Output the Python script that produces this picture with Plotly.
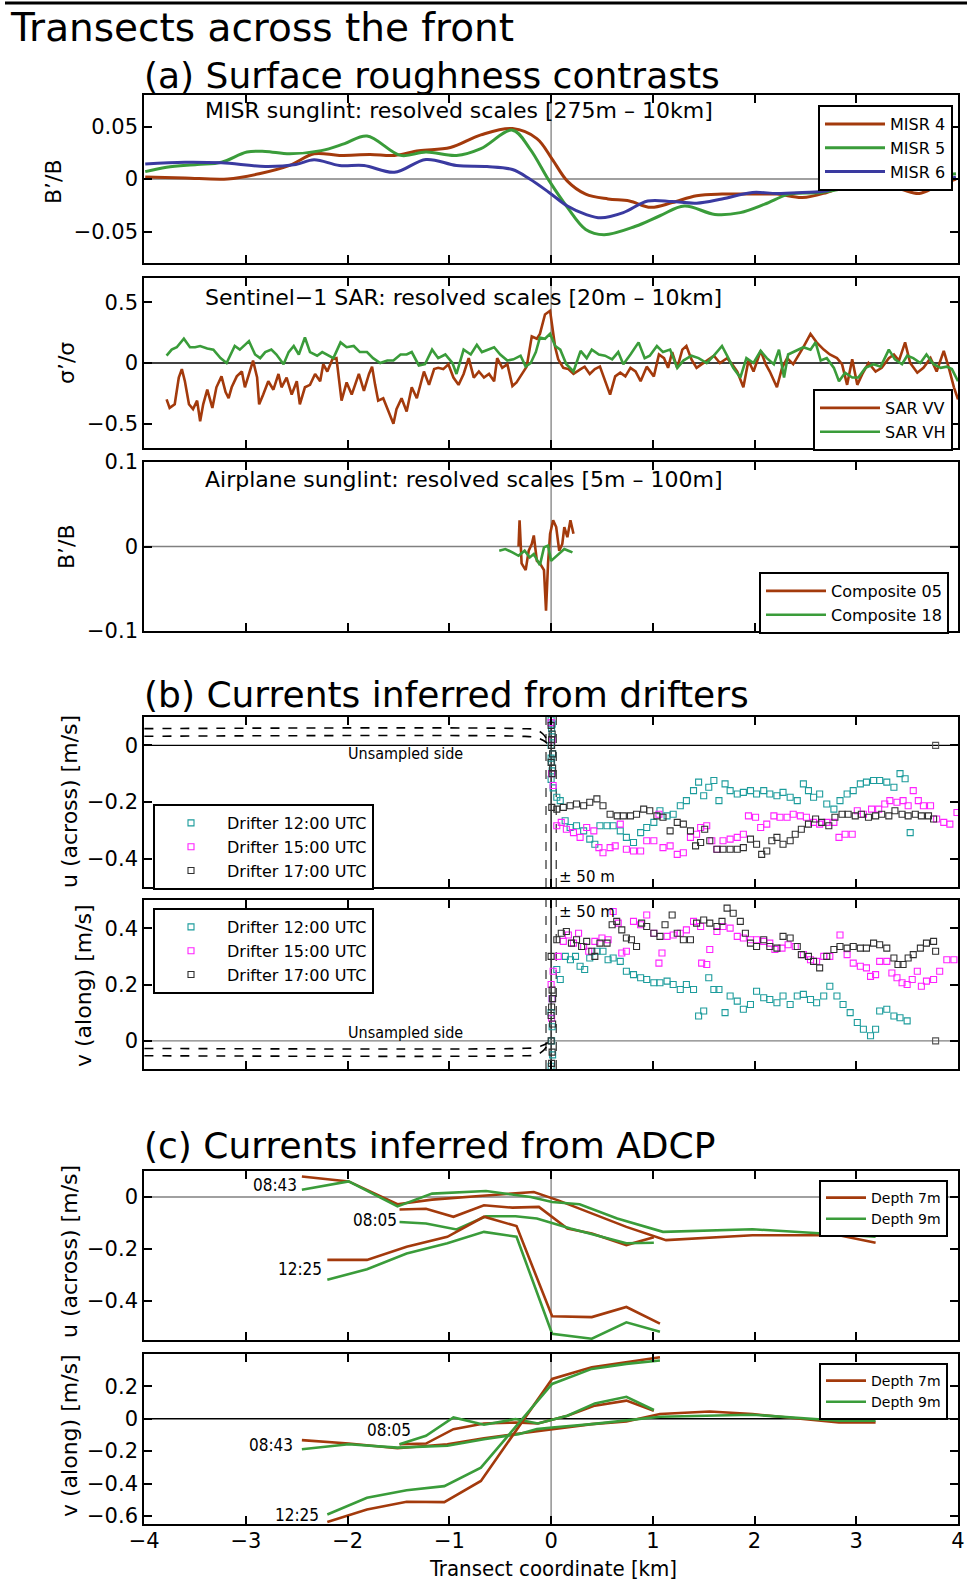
import plotly.graph_objects as go

# ---------------- DATA ----------------
KM_TICKS = [-4, -3, -2, -1, 0, 1, 2, 3, 4]
KM_TICKTEXT = ["\u22124", "\u22123", "\u22122", "\u22121", "0", "1", "2", "3", "4"]

# (a) MISR sunglint
MISR4_KM = [-3.99,-3.60,-3.18,-2.87,-2.57,-2.33,-2.08,-1.78,-1.54,-1.30,-0.99,-0.69,-0.38,-0.14,0.01,0.16,0.34,0.56,0.77,0.98,1.19,1.43,1.68,1.98,2.22,2.47,2.71,2.95,3.19,3.43,3.62,3.80,3.98]
MISR4 = [0.002,0.001,0.0,0.005,0.013,0.024,0.0225,0.0234,0.0225,0.027,0.030,0.042,0.048,0.0385,0.019,-0.002,-0.0144,-0.019,-0.021,-0.027,-0.0225,-0.016,-0.0144,-0.0144,-0.0144,-0.0177,-0.0128,-0.0048,-0.0064,-0.0096,-0.0138,-0.0064,0.0]
MISR5_KM = [-3.99,-3.78,-3.48,-3.24,-2.99,-2.81,-2.57,-2.26,-2.03,-1.81,-1.48,-1.23,-0.93,-0.69,-0.38,-0.21,-0.02,0.16,0.34,0.52,0.83,1.07,1.31,1.61,1.86,2.10,2.34,2.65,2.95,3.19,3.43,3.68,3.98]
MISR5 = [0.007,0.0112,0.0138,0.016,0.0257,0.0263,0.024,0.027,0.0337,0.041,0.0225,0.0257,0.0225,0.029,0.0465,0.029,-0.0016,-0.027,-0.048,-0.053,-0.045,-0.035,-0.0257,-0.0337,-0.032,-0.024,-0.0144,-0.0128,-0.008,-0.0064,-0.0016,0.0016,0.005]
MISR6_KM = [-3.99,-3.60,-3.24,-2.81,-2.51,-2.33,-2.08,-1.84,-1.54,-1.23,-0.93,-0.63,-0.38,-0.21,-0.02,0.16,0.34,0.49,0.71,0.95,1.19,1.43,1.68,1.98,2.22,2.47,2.71,3.01,3.25,3.56,3.80,3.98]
MISR6 = [0.0144,0.016,0.0154,0.012,0.0138,0.0183,0.0128,0.0128,0.0064,0.0186,0.0128,0.0119,0.009,0.0,-0.0128,-0.0257,-0.0337,-0.037,-0.032,-0.021,-0.0215,-0.023,-0.019,-0.0128,-0.0138,-0.0128,-0.0112,-0.0016,-0.0042,-0.0048,-0.0016,0.0016]

# (a) Sentinel-1 SAR
SAR_VV_KM = [-3.78,-3.75,-3.70,-3.66,-3.63,-3.60,-3.56,-3.52,-3.48,-3.45,-3.42,-3.38,-3.33,-3.29,-3.24,-3.20,-3.17,-3.14,-3.09,-3.04,
             -3.01,-2.96,-2.93,-2.89,-2.87,-2.83,-2.78,-2.73,-2.68,-2.65,-2.60,-2.55,-2.50,-2.47,-2.42,-2.37,-2.32,-2.27,-2.24,-2.20,
             -2.15,-2.11,-2.06,-2.01,-1.96,-1.89,-1.84,-1.79,-1.76,-1.73,-1.70,-1.65,-1.60,-1.55,-1.52,-1.47,-1.42,-1.37,-1.32,-1.25,
             -1.20,-1.15,-1.11,-1.06,-1.01,-0.96,-0.91,-0.86,-0.81,-0.76,-0.71,-0.66,-0.61,-0.56,-0.53,-0.48,-0.43,-0.38,-0.34,-0.29,
             -0.24,-0.19,-0.14,-0.11,-0.06,
             -0.01,0.04,0.07,0.12,0.17,0.22,0.29,0.33,0.38,0.43,0.48,0.53,0.58,0.63,0.68,0.73,0.78,0.83,0.88,0.94,
             1.01,1.06,1.11,1.15,1.19,1.24,1.29,1.33,1.38,1.43,1.48,1.53,1.60,1.66,1.73,1.78,1.83,1.89,1.94,1.99,
             2.06,2.11,2.15,2.22,2.27,2.32,2.38,2.48,2.55,2.61,2.68,2.74,2.81,2.86,2.91,2.96,3.01,3.06,3.12,3.19,
             3.25,3.32,3.37,3.42,3.48,3.53,3.60,3.66,3.73,3.79,3.86,3.91,3.96,4.0]
SAR_VV = [-0.30,-0.37,-0.34,-0.12,-0.05,-0.15,-0.34,-0.38,-0.31,-0.48,-0.34,-0.22,-0.37,-0.20,-0.11,-0.24,-0.29,-0.20,-0.11,-0.07,
          -0.20,-0.05,0.02,-0.12,-0.34,-0.26,-0.15,-0.22,-0.09,-0.20,-0.12,-0.26,-0.15,-0.34,-0.20,-0.18,-0.09,-0.15,-0.01,-0.07,
          0.03,0.04,-0.31,-0.16,-0.26,-0.09,-0.23,-0.09,-0.03,-0.18,-0.31,-0.29,-0.40,-0.50,-0.38,-0.29,-0.40,-0.20,-0.29,-0.07,
          -0.18,-0.05,-0.04,-0.05,-0.01,-0.12,-0.18,-0.09,0.04,-0.12,-0.07,-0.12,-0.09,-0.15,0.04,-0.04,-0.01,-0.19,-0.16,-0.09,
          -0.03,0.22,0.20,0.24,0.40,
          0.43,0.13,0.03,-0.04,-0.05,-0.09,-0.05,-0.03,-0.09,-0.05,-0.03,-0.15,-0.26,-0.11,-0.08,-0.11,-0.04,-0.07,-0.15,-0.03,
          -0.11,0.07,0.04,-0.04,0.09,-0.04,0.11,0.14,0.03,-0.04,-0.01,0.02,0.06,0.00,0.04,-0.01,-0.07,-0.20,0.02,-0.07,
          0.10,-0.01,-0.07,-0.20,-0.04,0.04,-0.01,0.13,0.24,0.17,0.11,0.07,0.04,-0.01,-0.18,0.03,-0.18,-0.09,0.00,-0.07,
          -0.04,0.04,0.07,0.02,0.17,0.00,-0.08,-0.04,0.04,-0.07,0.10,-0.04,-0.20,-0.30]
SAR_VH_KM = [-3.78,-3.73,-3.68,-3.61,-3.55,-3.50,-3.45,-3.38,-3.32,-3.25,-3.19,-3.15,-3.11,-3.06,-2.97,-2.91,-2.86,-2.81,-2.75,-2.70,
             -2.63,-2.58,-2.53,-2.48,-2.42,-2.37,-2.30,-2.25,-2.20,-2.14,-2.07,-2.01,-1.94,-1.88,-1.81,-1.75,-1.68,-1.61,-1.55,-1.48,
             -1.42,-1.37,-1.30,-1.24,-1.17,-1.11,-1.04,-0.97,-0.93,-0.86,-0.79,-0.73,-0.68,-0.61,-0.56,-0.50,-0.43,-0.37,-0.30,-0.25,
             -0.20,-0.15,-0.11,-0.06,-0.01,
             0.04,0.09,0.15,0.22,0.29,0.35,0.40,0.47,0.53,0.60,0.66,0.71,0.78,0.86,0.92,0.97,1.04,1.10,1.17,1.24,
             1.30,1.38,1.45,1.53,1.60,1.68,1.73,1.79,1.86,1.92,1.99,2.06,2.12,2.19,2.24,2.29,2.33,2.40,2.48,2.55,
             2.60,2.65,2.71,2.78,2.83,2.89,2.96,3.02,3.09,3.17,3.24,3.32,3.38,3.45,3.50,3.56,3.63,3.69,3.76,3.83,
             3.89,3.94,4.0]
SAR_VH = [0.06,0.11,0.13,0.20,0.13,0.13,0.14,0.12,0.11,0.04,0.00,0.07,0.14,0.11,0.18,0.07,0.04,0.09,0.11,0.07,
          -0.01,0.09,0.14,0.07,0.21,0.09,0.06,0.09,0.07,0.04,0.17,0.13,0.14,0.09,0.09,0.04,0.00,0.02,0.02,0.07,
          0.07,0.09,-0.02,-0.01,0.11,0.04,0.07,0.00,-0.09,0.11,0.07,0.15,0.09,0.11,0.13,0.07,0.02,0.03,0.06,-0.03,
          0.00,0.09,0.21,0.20,0.24,
          0.14,0.11,-0.01,-0.07,0.10,0.04,0.11,0.07,0.06,0.03,0.09,-0.01,0.07,0.17,0.04,0.06,0.14,0.09,0.11,-0.04,
          0.02,0.06,0.04,0.00,0.06,0.14,0.06,-0.04,-0.12,0.04,0.00,0.10,0.04,-0.01,0.11,-0.12,0.07,0.10,0.13,0.11,
          0.17,0.02,0.04,-0.04,-0.15,-0.08,-0.12,-0.12,-0.04,-0.01,-0.03,0.11,0.03,-0.01,0.06,0.04,0.00,0.07,-0.01,-0.04,
          -0.03,-0.05,-0.15]

# (a) Airplane sunglint
COMP05_KM = [-0.32,-0.31,-0.29,-0.25,-0.22,-0.19,-0.17,-0.14,-0.11,-0.07,-0.05,-0.03,-0.01,0.02,0.05,0.08,0.11,0.13,0.16,0.19,0.22]
COMP05 = [0.0,0.031,-0.02,-0.028,-0.005,0.003,0.013,-0.017,-0.02,-0.028,-0.076,-0.02,0.015,0.031,0.023,-0.005,0.003,0.023,0.011,0.031,0.015]
COMP18_KM = [-0.51,-0.45,-0.38,-0.32,-0.26,-0.21,-0.17,-0.11,-0.07,-0.03,0.0,0.04,0.09,0.13,0.17,0.21]
COMP18 = [-0.005,-0.003,-0.007,-0.011,-0.005,-0.013,-0.009,-0.022,-0.001,0.001,-0.017,-0.013,-0.007,-0.003,-0.005,-0.007]

# (b) Drifters: across-front u
D12_U_KM = [0.0,0.005,0.01,0.0,0.015,0.005,0.01,0.0,0.02,0.01,0.0,
            0.056,0.09,0.138,0.187,0.25,0.32,0.38,0.43,0.48,0.55,0.61,0.68,0.74,0.81,0.88,0.94,1.01,1.07,1.14,1.20,
            1.27,1.33,1.40,1.45,1.50,1.55,1.60,1.65,1.71,1.76,1.83,1.89,1.96,2.02,2.09,2.15,2.22,2.28,2.35,2.42,
            2.48,2.53,2.58,2.64,2.71,2.78,2.84,2.91,2.97,3.04,3.10,3.17,3.23,3.30,3.37,3.43,3.48,3.53]
D12_U = [0.09,0.06,0.03,0.0,-0.03,-0.06,-0.09,-0.12,-0.15,0.075,-0.045,
         -0.183,-0.195,-0.266,-0.29,-0.284,-0.302,-0.331,-0.349,-0.284,-0.284,-0.284,-0.302,-0.325,-0.343,-0.308,-0.29,-0.272,-0.231,-0.249,-0.243,
         -0.213,-0.195,-0.16,-0.13,-0.178,-0.148,-0.124,-0.195,-0.136,-0.16,-0.172,-0.166,-0.16,-0.172,-0.16,-0.172,-0.178,-0.166,-0.183,-0.195,
         -0.136,-0.16,-0.183,-0.172,-0.207,-0.225,-0.195,-0.172,-0.16,-0.136,-0.13,-0.124,-0.124,-0.13,-0.148,-0.10,-0.118,-0.308]
D15_U_KM = [0.0,0.01,0.005,
            0.02,0.056,0.10,0.15,0.22,0.285,0.35,0.42,0.47,0.51,0.58,0.63,0.68,0.74,0.81,0.88,0.94,1.01,1.06,1.10,
            1.17,1.24,1.30,1.37,1.43,1.47,1.53,1.58,1.63,1.69,1.76,1.83,1.89,1.94,2.01,2.06,2.12,2.19,2.25,2.32,
            2.38,2.45,2.51,2.58,2.64,2.71,2.78,2.83,2.89,2.96,3.01,3.07,3.15,3.22,3.28,3.33,3.40,3.46,3.51,3.56,
            3.61,3.66,3.73,3.79,3.86,3.92,3.99]
D15_U = [0.08,0.02,-0.1,
         -0.142,-0.284,-0.272,-0.296,-0.308,-0.325,-0.29,-0.302,-0.361,-0.379,-0.361,-0.355,-0.278,-0.367,-0.373,-0.373,-0.337,-0.337,-0.243,-0.361,
         -0.355,-0.385,-0.379,-0.325,-0.314,-0.29,-0.284,-0.337,-0.367,-0.337,-0.331,-0.325,-0.314,-0.249,-0.254,-0.29,-0.278,-0.249,-0.254,-0.254,
         -0.243,-0.249,-0.254,-0.272,-0.278,-0.272,-0.272,-0.325,-0.314,-0.314,-0.231,-0.243,-0.225,-0.225,-0.207,-0.195,-0.201,-0.195,-0.213,-0.16,
         -0.195,-0.213,-0.213,-0.260,-0.272,-0.278,-0.237]
D17_U_KM = [0.0,0.01,0.005,0.015,0.0,0.01,0.005,0.015,
            0.007,0.056,0.12,0.187,0.25,0.32,0.38,0.45,0.51,0.58,0.65,0.71,0.78,0.84,0.91,0.97,1.04,1.10,1.17,1.24,
            1.30,1.37,1.42,1.47,1.51,1.56,1.63,1.69,1.76,1.83,1.89,1.96,2.02,2.07,2.12,2.17,2.22,2.28,2.35,2.40,
            2.46,2.53,2.60,2.66,2.73,2.79,2.86,2.92,2.99,3.05,3.12,3.19,3.25,3.32,3.38,3.45,3.51,3.58,3.64,3.71,3.76]
D17_U = [0.07,0.04,0.0,-0.03,-0.06,-0.1,0.02,-0.08,
         -0.219,-0.225,-0.219,-0.213,-0.207,-0.213,-0.201,-0.189,-0.213,-0.243,-0.249,-0.249,-0.249,-0.243,-0.225,-0.231,-0.249,-0.254,-0.302,-0.272,
         -0.278,-0.302,-0.355,-0.343,-0.296,-0.337,-0.367,-0.367,-0.367,-0.367,-0.361,-0.331,-0.349,-0.385,-0.373,-0.337,-0.325,-0.349,-0.337,-0.314,
         -0.296,-0.278,-0.260,-0.272,-0.284,-0.254,-0.243,-0.243,-0.249,-0.243,-0.254,-0.249,-0.243,-0.249,-0.231,-0.243,-0.249,-0.243,-0.249,-0.249,-0.260]

# (b) Drifters: along-front v
D12_V_KM = [0.0,0.01,0.005,0.015,0.0,0.01,
            0.056,0.09,0.14,0.19,0.24,0.285,0.33,0.38,0.45,0.51,0.56,0.61,0.68,0.74,0.81,0.88,0.94,1.01,1.07,1.14,
            1.20,1.27,1.33,1.40,1.45,1.50,1.55,1.60,1.65,1.71,1.76,1.83,1.89,1.96,2.02,2.09,2.15,2.22,2.28,2.35,
            2.42,2.48,2.55,2.61,2.68,2.74,2.81,2.87,2.94,3.01,3.07,3.14,3.19,3.23,3.30,3.37,3.43,3.50]
D12_V = [0.1,0.05,0.0,-0.05,-0.09,0.15,
         0.253,0.218,0.30,0.288,0.30,0.265,0.253,0.294,0.318,0.318,0.288,0.294,0.282,0.247,0.235,0.224,0.218,0.206,0.206,0.212,
         0.20,0.182,0.20,0.182,0.088,0.106,0.224,0.182,0.182,0.10,0.159,0.141,0.112,0.129,0.176,0.153,0.147,0.135,0.159,0.129,
         0.159,0.165,0.147,0.135,0.159,0.194,0.159,0.129,0.10,0.065,0.041,0.018,0.041,0.106,0.112,0.088,0.082,0.071]
D15_V_KM = [0.0,0.01,0.005,
            0.02,0.07,0.12,0.17,0.22,0.27,0.32,0.37,0.43,0.50,0.56,0.61,0.66,0.695,0.74,0.81,0.88,0.94,1.01,1.06,
            1.09,1.14,1.20,1.27,1.33,1.40,1.47,1.48,1.53,1.56,1.63,1.69,1.76,1.83,1.89,1.96,2.02,2.09,2.15,2.20,
            2.27,2.33,2.40,2.48,2.55,2.61,2.68,2.74,2.84,2.91,2.97,3.04,3.10,3.14,3.19,3.23,3.30,3.35,3.40,3.45,
            3.50,3.55,3.60,3.64,3.69,3.76,3.82,3.89,3.96]
D15_V = [0.2,0.15,0.08,
         0.247,0.30,0.353,0.376,0.347,0.382,0.335,0.318,0.353,0.365,0.359,0.459,0.418,0.312,0.318,0.424,0.412,0.447,0.382,0.276,
         0.312,0.371,0.376,0.382,0.394,0.424,0.406,0.276,0.271,0.324,0.388,0.406,0.40,0.371,0.365,0.359,0.359,0.353,0.347,0.324,
         0.329,0.341,0.335,0.306,0.288,0.282,0.30,0.30,0.376,0.306,0.276,0.265,0.259,0.229,0.235,0.282,0.282,0.241,0.224,0.206,
         0.20,0.218,0.247,0.194,0.212,0.218,0.247,0.288,0.288]
D17_V_KM = [0.0,0.01,0.005,0.015,0.0,0.01,0.005,0.015,0.0,
            0.056,0.10,0.15,0.20,0.25,0.30,0.35,0.40,0.43,0.48,0.55,0.60,0.645,0.695,0.74,0.79,0.84,0.89,0.94,1.01,
            1.07,1.12,1.19,1.24,1.30,1.37,1.43,1.50,1.56,1.63,1.68,1.73,1.79,1.86,1.91,1.96,2.02,2.09,2.15,2.22,
            2.28,2.35,2.42,2.46,2.53,2.58,2.64,2.71,2.78,2.84,2.91,2.97,3.04,3.10,3.17,3.23,3.30,3.37,3.41,3.46,
            3.51,3.56,3.63,3.69,3.76,3.78]
D17_V = [0.30,0.18,0.12,0.06,0.0,-0.04,-0.08,0.15,0.09,
         0.359,0.382,0.388,0.347,0.359,0.335,0.353,0.318,0.30,0.347,0.347,0.412,0.424,0.394,0.365,0.359,0.335,0.418,0.406,0.382,
         0.371,0.412,0.447,0.382,0.359,0.359,0.418,0.429,0.418,0.406,0.424,0.471,0.453,0.424,0.382,0.347,0.335,0.359,0.335,0.329,
         0.371,0.365,0.335,0.306,0.30,0.282,0.259,0.30,0.324,0.335,0.329,0.335,0.329,0.329,0.347,0.341,0.329,0.294,0.271,0.271,
         0.294,0.306,0.329,0.347,0.353,0.318]
END_MARK_KM = [3.78]
END_MARK = [0.0]

# unsampled-side guide curves (dashed)
GUIDE_KM = [-4.0, -0.3, -0.15, -0.08, -0.04, -0.02]
GUIDE_U_A = [0.059, 0.059, 0.055, 0.04, 0.02, 0.005]
GUIDE_U_B = [0.032, 0.032, 0.028, 0.018, 0.008, 0.0]
GUIDE_V_A = [-0.027, -0.027, -0.024, -0.016, -0.008, 0.0]
GUIDE_V_B = [-0.053, -0.053, -0.05, -0.036, -0.018, -0.002]
BAND_KM = [-0.05, 0.05]

# (c) ADCP: across-front u, per transect
U0843_7_KM = [-2.45,-1.99,-1.51,-1.17,-0.64,-0.17,0.07,0.40,0.74,1.13,1.98,2.83,3.19]
U0843_7 = [0.079,0.060,-0.028,-0.010,0.006,0.019,-0.013,-0.064,-0.115,-0.166,-0.147,-0.147,-0.176]
U0843_9_KM = [-2.45,-1.99,-1.51,-1.17,-0.64,-0.2,0.01,0.28,0.65,1.10,1.98,3.19]
U0843_9 = [0.028,0.060,-0.036,0.013,0.023,0.0,-0.019,-0.028,-0.083,-0.134,-0.124,-0.153]
U0805_7_KM = [-1.49,-1.23,-0.96,-0.66,-0.38,-0.12,0.16,0.40,0.74,1.01]
U0805_7 = [-0.048,-0.045,-0.076,-0.032,-0.041,-0.038,-0.121,-0.140,-0.185,-0.155]
U0805_9_KM = [-1.49,-1.23,-0.93,-0.64,-0.35,-0.14,0.19,0.74,1.01]
U0805_9 = [-0.096,-0.102,-0.125,-0.074,-0.074,-0.083,-0.121,-0.178,-0.176]
U1225_KM = [-2.20,-1.81,-1.42,-1.02,-0.66,-0.34,0.01,0.40,0.74,1.07]
U1225_7 = [-0.242,-0.242,-0.191,-0.153,-0.076,-0.112,-0.459,-0.462,-0.423,-0.487]
U1225_9 = [-0.318,-0.278,-0.217,-0.178,-0.134,-0.153,-0.526,-0.545,-0.482,-0.518]

# (c) ADCP: along-front v, per transect
V0843_7_KM = [-2.45,-1.99,-1.51,-1.02,-0.66,-0.32,0.01,0.40,0.74,1.07,1.56,1.98,2.83,3.19]
V0843_7 = [-0.132,-0.153,-0.182,-0.157,-0.12,-0.091,-0.064,-0.033,-0.017,0.029,0.045,0.029,-0.023,-0.023]
V0843_9_KM = [-2.45,-1.99,-1.51,-1.02,-0.66,-0.32,-0.14,0.01,0.40,0.74,1.07,1.98,2.83,3.19]
V0843_9 = [-0.188,-0.157,-0.178,-0.167,-0.126,-0.095,-0.064,-0.054,-0.033,-0.012,0.012,0.025,-0.012,-0.012]
V0805_KM = [-1.49,-1.23,-0.96,-0.66,-0.35,-0.13,0.16,0.43,0.74,1.01]
V0805_7 = [-0.157,-0.153,-0.064,-0.029,-0.023,-0.029,0.019,0.081,0.112,0.05]
V0805_9 = [-0.157,-0.105,0.008,-0.037,-0.002,-0.029,0.019,0.095,0.136,0.054]
V1225_KM = [-2.20,-1.81,-1.42,-1.05,-0.69,0.01,0.40,0.74,1.07]
V1225_7 = [-0.637,-0.560,-0.513,-0.515,-0.384,0.246,0.318,0.35,0.38]
V1225_9 = [-0.591,-0.488,-0.442,-0.416,-0.302,0.215,0.308,0.339,0.36]

# ---------------- STYLE / LAYOUT ----------------
W, H = 967, 1581
FONT = "DejaVu Sans"
COND = "DejaVu Sans Condensed, Liberation Sans Narrow, DejaVu Sans"
BROWN = "#a33a0c"
GREEN = "#3a9c3a"
BLUE = "#3a3aa0"
TEAL = "#1c9c9c"
MAG = "#ff22ff"
BLK = "#303030"
GRAY = "#808080"

def px(x):
    return x / W

def py(y):
    return 1 - y / H

XL, XR = 144.2, 958.0
PANELS = [(95, 263), (278, 448), (462, 631), (717, 887), (900, 1069), (1171, 1340), (1354, 1524)]
YRANGES = [(-0.08, 0.08), (-0.7, 0.7), (-0.1, 0.1), (-0.5, 0.1), (-0.1, 0.5), (-0.55, 0.1), (-0.65, 0.4)]
YTICKS = [([-0.05, 0, 0.05], ["\u22120.05", "0", "0.05"]),
          ([-0.5, 0, 0.5], ["\u22120.5", "0", "0.5"]),
          ([-0.1, 0, 0.1], ["\u22120.1", "0", "0.1"]),
          ([-0.4, -0.2, 0], ["\u22120.4", "\u22120.2", "0"]),
          ([0, 0.2, 0.4], ["0", "0.2", "0.4"]),
          ([-0.4, -0.2, 0], ["\u22120.4", "\u22120.2", "0"]),
          ([-0.6, -0.4, -0.2, 0, 0.2], ["\u22120.6", "\u22120.4", "\u22120.2", "0", "0.2"])]

fig = go.Figure()

def ax(i):
    return ("x" if i == 1 else f"x{i}"), ("y" if i == 1 else f"y{i}")

def leg(i):
    return "legend" if i == 1 else f"legend{i}"

def line(i, xs, ys, color, name=None, width=3, show=True, shape="linear", group=None):
    xa, ya = ax(i)
    fig.add_trace(go.Scatter(x=xs, y=ys, mode="lines", xaxis=xa, yaxis=ya,
                             line=dict(color=color, width=width, shape=shape),
                             name=name, showlegend=(name is not None and show),
                             legend=leg(i), legendgroup=group, hoverinfo="skip"))

def dots(i, xs, ys, color, name=None):
    xa, ya = ax(i)
    fig.add_trace(go.Scatter(x=xs, y=ys, mode="markers", xaxis=xa, yaxis=ya,
                             marker=dict(symbol="square-open", size=6, color=color,
                                         line=dict(color=color, width=1.1)),
                             name=name, showlegend=name is not None,
                             legend=leg(i), hoverinfo="skip"))

# panel 1: MISR
line(1, MISR4_KM, MISR4, BROWN, "MISR 4", shape="spline")
line(1, MISR5_KM, MISR5, GREEN, "MISR 5", shape="spline")
line(1, MISR6_KM, MISR6, BLUE, "MISR 6", shape="spline")
# panel 2: SAR
line(2, SAR_VV_KM, SAR_VV, BROWN, "SAR VV", width=2.6)
line(2, SAR_VH_KM, SAR_VH, GREEN, "SAR VH", width=2.6)
# panel 3: airplane
line(3, COMP05_KM, COMP05, BROWN, "Composite 05", width=2.6)
line(3, COMP18_KM, COMP18, GREEN, "Composite 18", width=2.6)

# panels 4-5: guides and drifters
for i, ga, gb in [(4, GUIDE_U_A, GUIDE_U_B), (5, GUIDE_V_A, GUIDE_V_B)]:
    xa, ya = ax(i)
    for g in (ga, gb):
        fig.add_trace(go.Scatter(x=GUIDE_KM, y=g, mode="lines", xaxis=xa, yaxis=ya,
                                 line=dict(color="black", width=1.6, dash="dash", shape="spline"),
                                 showlegend=False, hoverinfo="skip"))
dots(4, D12_U_KM, D12_U, TEAL, "Drifter 12:00 UTC")
dots(4, D15_U_KM, D15_U, MAG, "Drifter 15:00 UTC")
dots(4, D17_U_KM, D17_U, BLK, "Drifter 17:00 UTC")
dots(4, END_MARK_KM, END_MARK, "#555555")
dots(5, D12_V_KM, D12_V, TEAL, "Drifter 12:00 UTC")
dots(5, D15_V_KM, D15_V, MAG, "Drifter 15:00 UTC")
dots(5, D17_V_KM, D17_V, BLK, "Drifter 17:00 UTC")
dots(5, END_MARK_KM, END_MARK, "#555555")

# panels 6-7: ADCP
line(6, U0843_7_KM, U0843_7, BROWN, "Depth 7m", width=2.6, group="d7")
line(6, U0843_9_KM, U0843_9, GREEN, "Depth 9m", width=2.6, group="d9")
line(6, U0805_7_KM, U0805_7, BROWN, "Depth 7m", width=2.6, show=False)
line(6, U0805_9_KM, U0805_9, GREEN, "Depth 9m", width=2.6, show=False)
line(6, U1225_KM, U1225_7, BROWN, "Depth 7m", width=2.6, show=False)
line(6, U1225_KM, U1225_9, GREEN, "Depth 9m", width=2.6, show=False)
line(7, V0843_7_KM, V0843_7, BROWN, "Depth 7m", width=2.6, group="d7")
line(7, V0843_9_KM, V0843_9, GREEN, "Depth 9m", width=2.6, group="d9")
line(7, V0805_KM, V0805_7, BROWN, "Depth 7m", width=2.6, show=False)
line(7, V0805_KM, V0805_9, GREEN, "Depth 9m", width=2.6, show=False)
line(7, V1225_KM, V1225_7, BROWN, "Depth 7m", width=2.6, show=False)
line(7, V1225_KM, V1225_9, GREEN, "Depth 9m", width=2.6, show=False)

layout = dict(width=W, height=H, autosize=False, margin=dict(l=0, r=0, t=0, b=0, autoexpand=False),
              paper_bgcolor="white", plot_bgcolor="white",
              font=dict(family=FONT, size=21, color="black"))
shapes = []
for n, ((t, b), yr, (tv, tt)) in enumerate(zip(PANELS, YRANGES, YTICKS), start=1):
    xk = "xaxis" if n == 1 else f"xaxis{n}"
    yk = "yaxis" if n == 1 else f"yaxis{n}"
    xa, ya = ax(n)
    layout[xk] = dict(domain=[px(XL), px(XR)], range=[-4, 4], anchor=ya, automargin=False,
                      tickvals=KM_TICKS, ticktext=KM_TICKTEXT, showticklabels=(n == 7),
                      ticks="inside", ticklen=8, tickwidth=2, tickcolor="black",
                      showline=True, linewidth=2, linecolor="black", mirror="ticks",
                      showgrid=False, zeroline=False, ticklabelstandoff=-3,
                      tickfont=dict(size=21, family=FONT))
    layout[yk] = dict(domain=[py(b), py(t)], range=list(yr), anchor=xa, automargin=False,
                      tickvals=tv, ticktext=tt, ticks="inside", ticklen=8, tickwidth=2,
                      tickcolor="black", showline=True, linewidth=2, linecolor="black",
                      mirror="ticks", showgrid=False, zeroline=False,
                      tickfont=dict(size=21, family=FONT))
    zc = "black" if n in (2, 4, 7) else GRAY
    shapes.append(dict(type="line", xref=xa, yref=ya, x0=-4, x1=4, y0=0, y1=0,
                       line=dict(color=zc, width=1.3), layer="below"))
    vc = "black" if n in (4, 5) else GRAY
    shapes.append(dict(type="line", xref=xa, yref=f"{ya} domain", x0=0, x1=0, y0=0, y1=1,
                       line=dict(color=vc, width=1.3), layer="below"))
    if n in (4, 5):
        for bx in BAND_KM:
            shapes.append(dict(type="line", xref=xa, yref=f"{ya} domain", x0=bx, x1=bx, y0=0, y1=1,
                               line=dict(color="black", width=1, dash="dash"), layer="below"))
shapes.append(dict(type="line", xref="paper", yref="paper", x0=px(5), x1=1, y0=py(3), y1=py(3),
                   line=dict(color="black", width=3)))
layout["shapes"] = shapes

def legend_cfg(x, y, xanchor, size, itemwidth):
    return dict(x=px(x), y=py(y), xanchor=xanchor, yanchor="top", bgcolor="white",
                bordercolor="black", borderwidth=2, tracegroupgap=0, itemwidth=itemwidth,
                font=dict(size=size, family=FONT, color="black"))

layout["legend"] = legend_cfg(953, 105, "right", 16, 60)
layout["legend2"] = legend_cfg(953, 389, "right", 16, 60)
layout["legend3"] = legend_cfg(949, 572, "right", 16, 60)
layout["legend4"] = legend_cfg(153, 804, "left", 16, 62)
layout["legend5"] = legend_cfg(153, 908, "left", 16, 62)
layout["legend6"] = legend_cfg(948, 1180, "right", 14, 40)
layout["legend7"] = legend_cfg(948, 1363, "right", 14, 40)

ann = []
def note(text, x, y, size, xanchor="left", yanchor="middle", family=FONT, angle=0, xref="paper", yref="paper"):
    ann.append(dict(text=text, x=x, y=y, xref=xref, yref=yref, xanchor=xanchor, yanchor=yanchor,
                    showarrow=False, textangle=angle, font=dict(size=size, family=family, color="black")))

note("Transects across the front", px(8), py(27), 39)
note("(a) Surface roughness contrasts", px(142), py(75), 36)
note("(b) Currents inferred from drifters", px(142), py(694), 36)
note("(c) Currents inferred from ADCP", px(142), py(1145), 36)
note("MISR sunglint: resolved scales [275m \u2013 10km]", px(203), py(111), 22)
note("Sentinel\u22121 SAR: resolved scales [20m \u2013 10km]", px(203), py(297), 22)
note("Airplane sunglint: resolved scales [5m \u2013 100m]", px(203), py(479), 22)
# y-axis titles
note("B\u2019/B", px(53), py(182), 22, xanchor="center", angle=-90)
note("\u03c3\u2019/\u03c3", px(66), py(363), 22, xanchor="center", angle=-90)
note("B\u2019/B", px(66), py(547), 22, xanchor="center", angle=-90)
note("u (across) [m/s]", px(69), py(802), 22, xanchor="center", angle=-90)
note("v (along) [m/s]", px(83), py(986), 22, xanchor="center", angle=-90)
note("u (across) [m/s]", px(69), py(1252), 22, xanchor="center", angle=-90)
note("v (along) [m/s]", px(69), py(1436), 22, xanchor="center", angle=-90)
note("Transect coordinate [km]", px(553), py(1583), 22, xanchor="center", yanchor="bottom", family=COND)
# data-space labels
note("Unsampled side", -1.43, -0.03, 16, xanchor="center", family=COND, xref="x4", yref="y4")
note("Unsampled side", -1.43, 0.031, 16, xanchor="center", family=COND, xref="x5", yref="y5")
note("\u00b1 50 m", 0.06, -0.463, 15, xref="x4", yref="y4")
note("\u00b1 50 m", 0.06, 0.456, 15, xref="x5", yref="y5")
note("08:43", -2.48, 0.045, 17, xanchor="right", family=COND, xref="x6", yref="y6")
note("08:05", -1.5, -0.089, 17, xanchor="right", family=COND, xref="x6", yref="y6")
note("12:25", -2.23, -0.276, 17, xanchor="right", family=COND, xref="x6", yref="y6")
note("08:05", -1.36, -0.068, 17, xanchor="right", family=COND, xref="x7", yref="y7")
note("08:43", -2.52, -0.16, 17, xanchor="right", family=COND, xref="x7", yref="y7")
note("12:25", -2.26, -0.595, 17, xanchor="right", family=COND, xref="x7", yref="y7")
layout["annotations"] = ann

fig.update_layout(**layout)
fig.write_html("out.html")
